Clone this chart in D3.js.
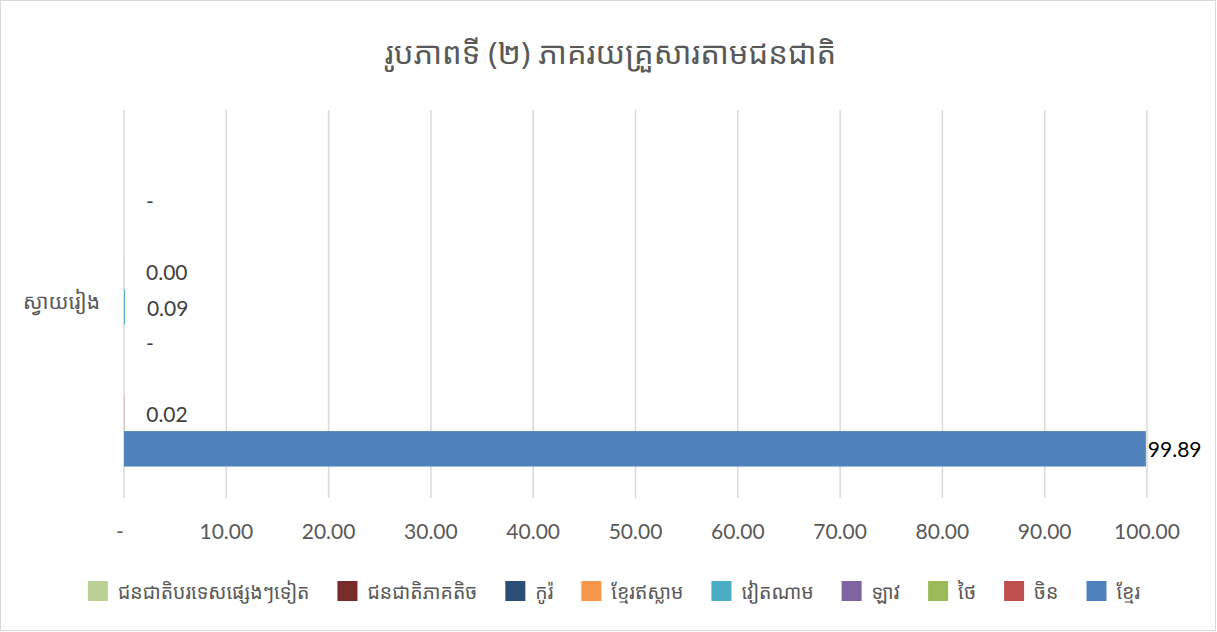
<!DOCTYPE html>
<html>
<head>
<meta charset="utf-8">
<title>ភាគរយគ្រួសារតាមជនជាតិ</title>
<script src="https://d3js.org/d3.v7.min.js"></script>
<style>
  body { margin: 0; background: #fff; }
  svg text { font-family: "Noto Sans Khmer", "Khmer OS", "Lato", "Noto Sans", sans-serif; }
</style>
</head>
<body>
<div id="chart"></div>
<script>
// chart data
var title = "រូបភាពទី (២) ភាគរយគ្រួសារតាមជនជាតិ";
var categories = ["ស្វាយរៀង"];
var seriesNames = ["ខ្មែរ", "ចិន", "ថៃ", "ឡាវ", "វៀតណាម", "ខ្មែរឥស្លាម", "កូរ៉", "ជនជាតិភាគតិច", "ជនជាតិបរទេសផ្សេងៗទៀត"];
var seriesValues = [99.89, 0.02, null, 0, 0.09, 0.004, null, 0, null];
var seriesColors = ["#4f81bd", "#c0504d", "#9bbb59", "#8064a2", "#4bacc6", "#f79646", "#2c4d75", "#772c2a", "#bcd095"];
var xTicks = [0, 10, 20, 30, 40, 50, 60, 70, 80, 90, 100];

var W = 1217, H = 632;
var margin = {top: 110, right: 70, bottom: 134, left: 124};

var svg = d3.select("#chart").append("svg")
  .attr("width", W)
  .attr("height", H);

// outer border
svg.append("rect")
  .attr("x", 0.5).attr("y", 0.5)
  .attr("width", W - 2).attr("height", H - 2)
  .attr("fill", "#fff")
  .attr("stroke", "#d9d9d9");

svg.append("text")
  .attr("x", W / 2 + 2)
  .attr("y", 52)
  .attr("text-anchor", "middle")
  .attr("dominant-baseline", "central")
  .attr("font-size", 31)
  .attr("fill", "#595959")
  .text(title);

var x = d3.scaleLinear().domain([0, 100]).range([margin.left, W - margin.right]);
var y = d3.scaleBand().domain(categories)
  .range([margin.top + 3, H - margin.bottom + 3])
  .paddingInner(0).paddingOuter(0.108);
// first series at the bottom
var ySub = d3.scaleBand().domain(seriesNames.slice().reverse())
  .range([0, y.bandwidth()]);

// gridlines
svg.append("g")
  .selectAll("line")
  .data(xTicks)
  .join("line")
  .attr("x1", function(d) { return x(d); })
  .attr("x2", function(d) { return x(d); })
  .attr("y1", margin.top)
  .attr("y2", H - margin.bottom)
  .attr("stroke", "#d9d9d9")
  .attr("stroke-width", 1.5);

// x tick labels
svg.append("g")
  .selectAll("text")
  .data(xTicks)
  .join("text")
  .attr("x", function(d) { return d === 0 ? x(d) - 4 : x(d); })
  .attr("y", 530)
  .attr("text-anchor", "middle")
  .attr("dominant-baseline", "central")
  .attr("font-size", 21)
  .attr("fill", "#595959")
  .style("font-family", "Lato, sans-serif")
  .text(function(d) { return d === 0 ? "-" : d.toFixed(2); });

// category labels
svg.append("g")
  .selectAll("text")
  .data(categories)
  .join("text")
  .attr("x", margin.left - 24)
  .attr("y", function(d) { return y(d) + y.bandwidth() / 2 - 6; })
  .attr("text-anchor", "end")
  .attr("dominant-baseline", "central")
  .attr("font-size", 21)
  .attr("fill", "#595959")
  .text(function(d) { return d; });

var rows = seriesNames.map(function(n, i) {
  return {name: n, value: seriesValues[i], color: seriesColors[i], cat: categories[0]};
});

var bars = svg.append("g");
bars.selectAll("rect")
  .data(rows.filter(function(d) { return d.value !== null; }))
  .join("rect")
  .attr("x", x(0))
  .attr("y", function(d) { return y(d.cat) + ySub(d.name); })
  .attr("width", function(d) { return x(d.value) - x(0); })
  .attr("height", ySub.bandwidth())
  .attr("fill", function(d) { return d.color; });

// data labels
var labels = svg.append("g")
  .selectAll("text")
  .data(rows.filter(function(d) { return d.value !== null; }))
  .join("text")
  .attr("y", function(d) { return y(d.cat) + ySub(d.name) + ySub.bandwidth() / 2; })
  .attr("dominant-baseline", "central")
  .attr("font-size", 21)
  .attr("fill", function(d) { return d.value > 50 ? "#000" : "#404040"; })
  .style("font-family", "Lato, sans-serif")
  .text(function(d) { return d.value === 0 ? "-" : d.value.toFixed(2); });

labels.attr("x", function(d) {
  var w = this.getComputedTextLength();
  var px = x(d.value) + 22;
  if (px + w > W - 8) px = x(d.value) + 2;
  return px;
});

// legend, reversed order, centred
var legendItems = rows.slice().reverse();
var legend = svg.append("g");
var items = legend.selectAll("g")
  .data(legendItems)
  .join("g");
items.append("rect")
  .attr("width", 20).attr("height", 20)
  .attr("y", -10)
  .attr("fill", function(d) { return d.color; });
items.append("text")
  .attr("x", 30)
  .attr("dominant-baseline", "central")
  .attr("font-size", 19.5)
  .attr("fill", "#595959")
  .text(function(d) { return d.name; });

var gap = 28;
var pos = 0, offsets = [];
items.each(function() {
  offsets.push(pos);
  pos += this.getBBox().width + gap;
});
var total = pos - gap;
var startX = 614 - total / 2;
items.attr("transform", function(d, i) {
  return "translate(" + (startX + offsets[i]) + ",591)";
});
</script>
</body>
</html>
